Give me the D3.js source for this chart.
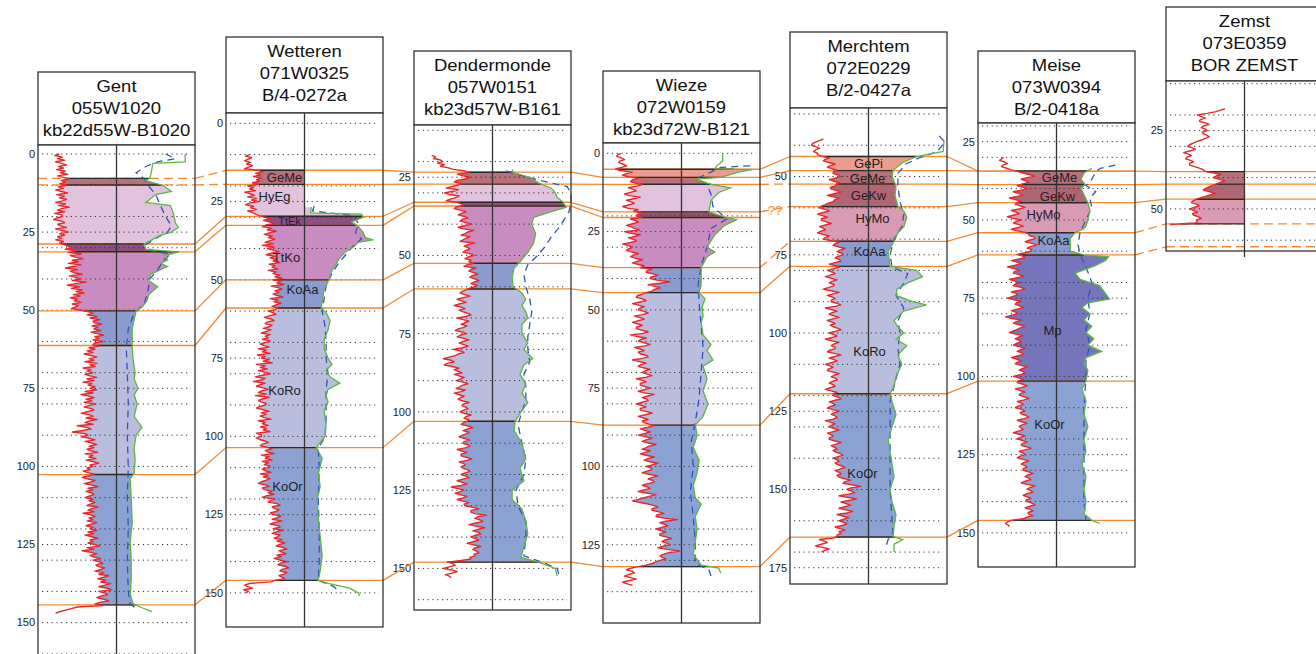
<!DOCTYPE html>
<html>
<head>
<meta charset="utf-8">
<script src="https://cdn.jsdelivr.net/npm/d3@7"></script>
<style>
  body { margin: 0; background: #fff; }
  svg { display: block; font-family: "Liberation Sans", Arial, sans-serif; }
</style>
</head>
<body>
<svg id="chart" width="1316" height="654"></svg>
<script>
// ---------- Wells ----------
const wellNames = ["Gent", "Wetteren", "Dendermonde", "Wieze", "Merchtem", "Meise", "Zemst"];
const wellCodes = ["055W1020", "071W0325", "057W0151", "072W0159", "072E0229", "073W0394", "073E0359"];
const wellIds   = ["kb22d55W-B1020", "B/4-0272a", "kb23d57W-B161", "kb23d72W-B121", "B/2-0427a", "B/2-0418a", "BOR ZEMST"];
// depth (m) at top and bottom of each log track
const depthTop    = [-2.88, -3.29, 8.31, -3.29, 28.1, 19.04, 9.14];
const depthBottom = [162.6, 160.9, 163.3, 150.0, 180.2, 160.9, 63.45];

// ---------- Gamma-ray logs (0.5 m steps from grStart) ----------
const grStart = [0, 10, 18, 0, 38, 30, 18];
const GR_STEP = 0.5;
const grGent = [
  22,17,25,20,27,18,24,29,21,26,19,28,23,30,20,26,31,24,28,22,
  29,21,26,18,24,30,19,27,22,29,25,18,28,21,32,24,20,27,17,24,
  25,19,16,24,27,20,23,29,18,25,31,22,27,20,24,18,26,22,27,30,
  35,28,39,31,44,33,38,46,35,41,31,44,36,28,40,33,37,45,32,38,
  43,35,49,38,30,42,34,45,39,47,36,43,33,40,37,44,35,41,38,34,
  44,52,56,50,60,53,63,56,58,65,55,61,57,64,54,60,67,58,62,56,
  66,58,56,62,52,58,50,56,47,54,60,52,57,48,60,53,58,46,54,50,
  56,48,53,60,50,57,46,55,51,58,53,60,48,56,44,52,57,49,55,47,
  59,52,47,55,57,50,44,53,56,49,60,52,48,56,40,50,54,46,35,48,
  51,44,53,58,48,55,60,52,57,50,54,61,48,56,52,59,49,57,62,53,
  56,50,53,46,51,57,52,45,50,58,54,47,55,61,51,56,49,55,57,52,
  48,56,52,58,54,50,61,55,51,57,46,54,58,52,56,50,60,54,49,56,
  53,60,51,57,48,55,61,53,56,51,58,63,50,57,45,54,60,53,57,64,
  56,62,66,59,61,68,64,58,67,62,72,66,61,69,64,74,68,62,71,75,
  62,68,71,64,60,67,72,63,58,66,40,34,28,22,18];
const grWetteren = [
  24,20,26,22,19,25,21,27,23,19,33,37,30,35,28,36,31,34,27,33,
  22,28,24,30,19,25,29,22,31,26,33,24,20,28,25,31,22,27,30,34,
  40,45,38,44,49,41,37,46,42,51,44,39,47,43,50,45,40,48,37,49,
  42,48,54,46,41,50,45,52,48,55,44,50,47,53,43,51,48,55,50,57,
  48,56,52,59,46,53,57,50,54,48,52,58,45,53,49,56,51,47,53,50,
  43,48,51,44,39,46,49,42,40,47,44,38,46,41,36,45,40,43,37,45,
  41,35,39,44,33,41,37,45,32,40,36,44,38,47,31,40,35,42,33,39,
  45,37,30,40,36,28,40,35,31,38,43,36,33,41,30,44,38,33,36,41,
  40,34,31,38,44,36,41,35,39,46,33,40,37,43,35,41,38,45,31,36,
  36,31,34,40,43,37,35,42,47,40,43,49,36,44,40,47,37,43,39,45,
  42,37,40,46,35,43,38,45,41,36,33,40,44,37,39,47,43,49,41,37,
  50,45,43,52,55,47,49,54,51,45,48,56,52,47,57,50,45,53,55,48,
  58,51,47,55,53,49,57,52,60,55,51,58,62,54,57,61,52,56,49,55,
  62,56,53,60,64,57,55,62,59,54,57,60,50,46,
  24,19,22,27,18,23,20];
const grDendermonde = [
  18,22,20,27,29,24,31,27,35,40,52,56,44,49,57,53,44,41,48,45,
  38,33,45,40,31,36,46,42,37,33,44,48,51,43,41,47,53,49,45,51,
  55,49,47,53,59,51,45,50,61,55,52,48,57,53,50,47,62,56,51,55,
  57,52,50,58,61,55,52,58,56,61,54,51,63,58,56,61,65,59,57,62,
  66,61,58,64,62,56,53,49,47,52,57,50,44,49,53,46,41,48,52,46,
  50,55,58,53,44,50,56,52,48,54,51,45,42,50,53,47,44,51,56,50,
  46,51,55,49,40,47,51,45,42,36,30,38,41,34,31,39,46,41,45,49,
  41,46,51,47,43,50,55,49,47,43,52,48,41,46,51,47,45,50,56,50,
  49,53,55,50,47,52,58,53,51,56,54,50,48,55,60,54,50,56,53,49,
  46,52,57,51,50,55,57,52,44,49,54,48,48,53,59,54,46,51,52,48,
  50,55,57,52,48,53,56,50,44,49,54,48,38,45,51,47,42,48,54,50,
  44,50,56,51,52,60,66,58,58,62,74,65,62,67,70,63,56,63,72,66,
  60,66,68,62,58,63,66,60,54,61,68,62,60,64,66,61,62,57,58,48,
  34,40,42,36,30,38,44,39,32,36,38];
const grWieze = [
  18,15,14,19,22,17,16,21,24,19,13,17,30,24,20,26,36,30,28,33,
  40,34,26,31,34,28,22,27,38,31,24,29,32,26,20,25,36,31,40,35,
  34,39,28,33,36,30,24,29,32,37,22,27,38,33,26,31,34,28,20,26,
  30,26,24,29,36,31,28,33,40,35,30,36,42,38,50,45,44,51,56,49,
  48,55,68,58,46,53,58,52,50,44,40,35,34,40,44,38,30,36,42,37,
  36,42,46,40,32,38,42,35,30,36,40,34,34,40,46,41,28,35,44,38,
  36,42,48,43,32,38,42,36,38,44,46,40,30,37,44,39,36,41,48,43,
  40,45,50,44,34,40,44,38,38,43,48,42,36,42,52,46,40,45,46,40,
  34,39,44,38,38,45,50,43,36,41,46,40,42,47,52,46,38,43,48,42,
  36,43,50,44,40,46,54,47,44,40,48,43,38,45,52,46,42,48,56,50,
  44,49,50,45,40,47,56,50,46,51,52,46,40,45,48,42,36,44,54,48,
  42,36,30,38,46,52,56,50,50,57,62,55,54,62,76,64,58,63,66,60,
  54,59,64,58,58,64,70,63,60,65,68,61,56,66,78,68,62,58,60,64,
  58,54,50,44,36,28,24,30,32,26,22,28,34,26,20,25,30];
const grMerchtem = [
  34,30,26,23,22,27,30,26,24,28,28,33,40,36,34,39,46,41,38,43,
  48,44,44,49,52,46,40,45,50,47,46,41,42,48,52,45,38,44,50,45,
  44,39,36,32,30,36,40,34,28,33,38,32,32,37,42,36,30,34,36,31,
  28,34,40,36,34,42,50,46,44,50,56,51,48,53,54,49,46,50,52,46,
  40,46,50,44,38,43,46,41,36,42,48,43,40,45,44,39,34,42,50,44,
  38,43,46,42,42,48,52,46,36,42,48,43,40,45,50,44,38,43,46,41,
  44,49,52,46,40,45,48,42,36,43,50,45,42,46,46,41,38,45,52,46,
  40,45,48,42,36,41,44,39,38,44,50,45,42,47,48,43,40,44,46,41,
  36,42,48,44,44,49,52,46,40,44,46,41,38,44,50,45,42,46,48,44,
  36,41,46,42,40,45,50,44,38,42,44,40,40,46,52,47,42,45,48,44,
  46,51,54,49,44,48,50,46,48,53,56,51,46,50,52,48,50,55,62,56,
  54,63,72,62,58,63,66,60,50,58,68,60,52,57,62,56,50,57,64,58,
  48,54,60,55,50,55,58,53,46,51,56,50,52,48,48,44,
  30,35,38,32,26,33,40,35,32];
const grMeise = [
  26,24,22,27,30,25,24,29,34,40,46,52,58,50,44,49,52,46,40,45,
  50,44,36,41,46,40,32,38,44,40,38,43,48,42,34,39,42,36,30,36,
  44,39,36,42,46,40,34,40,48,52,52,58,58,52,48,55,60,54,50,55,
  54,48,40,45,48,42,34,40,44,38,30,36,42,37,36,42,46,40,32,37,
  42,38,36,43,48,42,34,39,40,35,30,37,44,39,38,43,46,40,34,39,
  40,34,28,35,44,39,36,42,48,43,40,36,32,39,46,41,38,42,44,39,
  36,42,48,43,40,45,46,40,34,39,44,40,38,44,50,45,42,46,48,42,
  36,42,46,41,40,46,50,45,38,43,48,43,42,47,52,47,40,44,46,41,
  38,44,48,43,44,49,52,47,40,45,50,45,42,44,46,41,36,42,48,43,
  40,46,50,45,44,50,54,48,42,46,48,43,40,46,52,47,44,48,50,46,
  46,52,56,51,48,52,54,48,44,50,58,53,50,54,56,50,46,50,54,49,
  50,55,58,53,48,53,56,51,52,56,50,46,
  34,30,28,31,32];
const grZemst = [
  60,55,50,42,32,36,40,35,34,40,44,38,36,40,42,37,38,42,44,40,
  36,31,28,24,22,27,30,24,18,23,26,21,20,25,28,24,24,29,34,38,
  40,48,56,51,48,54,60,55,52,47,44,40,38,44,50,45,40,35,30,27,
  26,31,34,29,24,28,32,27,28,33,36,31,32,30,4];
const grLogs = [grGent, grWetteren, grDendermonde, grWieze, grMerchtem, grMeise, grZemst];

// ---------- Resistivity logs: [depth m, reading] ----------
const resGent = [[0,70],[2.5,70],[3,37],[5,36],[7.8,34],[8.5,30],[10,47],[12,56],[13,40],[15.5,30],[16.5,55],[19,58],[22,60],[23.5,63],[25,56],[26,45],[27.5,36],[28.8,28],[30.5,30],[31.3,63],[32.5,50],[33.9,52],[35,45],[36,52],[38.5,35],[40.6,33],[42.5,42],[45,33],[47,31],[49,26],[50.2,20],[53,18],[56,16],[62,16],[66,17],[70,19],[72,18],[75,22],[77,18],[80,21],[84,18],[87.5,26],[90,20],[94,18],[98,19],[102,18],[104,14],[110,15],[118,16],[124,14],[130,15],[136,15],[141,14],[144,17],[145,24],[146.5,36]];
const resWetteren = [[26.8,7],[28.6,6],[29,58],[30,60],[31.5,48],[33,55],[35,60],[36.5,62],[37.2,70],[38,55],[39.5,50],[41,42],[43,36],[45,32],[47,28],[50,25],[53,20],[57,18],[59,17],[60.5,22],[63,26],[66,24],[69,20],[72,20],[75,24],[77,28],[79,22],[81,26],[83,36],[85,24],[87,22],[89,24],[92,20],[96,22],[100,21],[103.6,12],[107,18],[112,14],[116,16],[120,13],[126,14],[132,16],[138,18],[143,16],[146,14],[147,24],[148.5,46],[150,55],[151,56]];
const resDendermonde = [[22.5,20],[23.5,21],[25,38],[27,48],[28.5,60],[30,64],[31.5,66],[33,72],[34.6,75],[36,60],[37.8,42],[40,40],[43,44],[46,42],[49,36],[52,28],[54,22],[57,20],[60,21],[62,30],[64,34],[66,30],[68,34],[70,36],[72,30],[75,30],[78,36],[80,32],[83,41],[85,32],[88,28],[91,34],[94,30],[97,36],[100,29],[103,23],[106,22],[110,30],[115,34],[118,28],[122,32],[125,20],[128,20],[131,30],[135,34],[139,36],[143,32],[146.5,29],[148,47],[150,64],[152.5,66]];
const resWieze = [[0,42],[2.5,42],[4,36],[5,34],[5.2,72],[6,58],[7.7,40],[8.2,14],[9.9,30],[11,50],[12.5,38],[15,30],[18.7,28],[20.4,44],[21.2,56],[23,44],[26,34],[30,26],[31.5,34],[33,26],[36.5,20],[42,20],[44.5,18],[46.5,24],[49,21],[52,22],[54,20],[58,22],[61,30],[63,26],[66,32],[68,22],[72,26],[76,22],[80,27],[84,22],[86.8,14],[90,16],[94,12],[98,18],[102,16],[106,12],[110,14],[112,20],[116,14],[120,16],[124,14],[128,12],[131.5,20],[132.5,38],[134,40]];
const resMerchtem = [[38.5,77],[42,76],[43.6,49],[45.5,35],[48,25],[50,24],[53,28],[56,27],[59.6,30],[61,36],[63,39],[66,36],[68,30],[70.7,26],[74,20],[78.7,22],[80,49],[82,55],[84,40],[86,29],[88,28],[90,45],[91,59],[93,36],[96,26],[98,30],[100,36],[102,28],[104,39],[107,30],[110,34],[114,28],[117,26],[119.4,22],[122,24],[126,28],[130,24],[134,20],[138,22],[142,24],[146,26],[150,22],[154,24],[158,28],[162,26],[165,25],[166,35],[167.5,26],[170,26]];
const resMeise = [[33.5,36],[35,28],[37,25],[38.7,29],[40,25],[42,28],[44.5,32],[47,34],[50,32],[52,30],[53,27],[54,19],[56,14],[60,14],[61.2,28],[61.8,53],[63,50],[64.5,40],[66,28],[67,19],[69,24],[71,44],[75.3,54],[76.5,32],[78,26],[80,34],[82,28],[84,36],[86,30],[88,38],[90,32],[92,46],[94,30],[96,28],[98,32],[101.5,30],[104,26],[108,30],[112,28],[116,32],[120,28],[124,30],[128,26],[132,30],[136,28],[140,30],[144,28],[146,36],[147,44]];
const resLogs = [resGent, resWetteren, resDendermonde, resWieze, resMerchtem, resMeise, null];

// second resistivity reading (dashed)
const res2Gent = [[0,50],[1.5,60],[2.5,42],[4,30],[6,20],[7.8,28],[10,32],[13,40],[16,44],[20,50],[23,56],[25,52],[27,40],[29,30],[31,36],[32,55],[34,48],[37,42],[40,34],[44,32],[48,28],[51,18],[56,12],[62,10],[70,11],[80,12],[90,11],[100,12],[110,11],[120,12],[130,11],[140,12],[144,14],[146,22]];
const res2Wetteren = [[26.5,10],[28,8],[29.5,50],[32,55],[35,52],[37,58],[39,50],[42,42],[45,34],[48,28],[52,22],[56,20],[60,18],[65,21],[70,22],[75,22],[80,24],[85,22],[90,22],[95,22],[100,21],[104,14],[110,15],[120,14],[130,15],[140,15],[146,14],[148,30],[150,36]];
const res2Dendermonde = [[23,14],[24.5,30],[26.5,55],[28,76],[30,80],[33,80],[36,78],[38,74],[41,68],[44,60],[47,54],[50,46],[53,36],[56,32],[60,34],[64,38],[68,40],[72,38],[76,36],[80,36],[84,38],[88,32],[92,34],[96,34],[100,30],[104,26],[110,30],[115,34],[120,32],[125,24],[130,26],[135,34],[140,34],[146,32],[148,50],[150,66],[152.5,68]];
const res2Wieze = [[4,70],[4.5,40],[6,30],[8,16],[10,26],[13,30],[17,32],[21,46],[24,30],[30,26],[36,20],[42,17],[48,18],[55,20],[62,22],[70,20],[78,18],[86,14],[92,10],[100,12],[108,9],[116,12],[124,14],[131,14],[133,28],[135,30]];
const res2Merchtem = [[37,72],[39,78],[42,70],[44,52],[46,38],[49,30],[53,30],[58,32],[62,36],[66,34],[70,26],[75,22],[79,24],[81,40],[84,36],[88,28],[92,36],[96,30],[100,32],[105,30],[110,32],[117,26],[122,22],[130,22],[140,22],[150,22],[160,24],[164,25],[166,20],[168,18]];
const res2Meise = [[32.5,60],[33.5,45],[34.5,40],[37,36],[39,30],[41,40],[43,34],[46,36],[50,30],[54,24],[58,22],[61,24],[65,30],[70,36],[75,32],[80,34],[85,30],[90,34],[95,30],[100,30],[110,28],[120,28],[130,28],[140,28],[146,30]];
const res2Logs = [res2Gent, res2Wetteren, res2Dendermonde, res2Wieze, res2Merchtem, res2Meise, null];

// ---------- Lithostratigraphic units: [unit, top m, base m] ----------
const unitsGent        = [["GeMe",7.8,9.9],["HyEg",9.9,28.8],["TtEk",28.8,31.3],["TtKo",31.3,50.2],["KoAa",50.2,61.3],["KoRo",61.3,102.6],["KoOr",102.6,144.3]];
const unitsWetteren    = [["GeMe",15,19.5],["HyEg",19.5,29.7],["TtEk",29.7,32.6],["TtKo",32.6,50],["KoAa",50,59],["KoRo",59,103.6],["KoOr",103.6,146]];
const unitsDendermonde = [["GeMe",23.4,27.2],["HyEg",27.2,33],["TtEk",33,34.2],["TtKo",34.2,52.5],["KoAa",52.5,60.7],["KoRo",60.7,103],["KoOr",103,148]];
const unitsWieze       = [["GePi",5.1,7.7],["GeMe",7.7,9.9],["HyEg",9.9,18.7],["TtEk",18.7,20.5],["TtKo",20.5,36.5],["KoAa",36.5,44.5],["KoRo",44.5,86.8],["KoOr",86.8,132]];
const unitsMerchtem    = [["GePi",43.6,48.1],["GeMe",48.1,52.4],["GeKw",52.4,59.6],["HyMo",59.6,70.7],["KoAa",70.7,78.7],["KoRo",78.7,119.4],["KoOr",119.4,165.2]];
const unitsMeise       = [["GeMe",34.4,38.7],["GeKw",38.7,44.5],["HyMo",44.5,54.1],["KoAa",54.1,61.2],["Mp",61.2,101.5],["KoOr",101.5,146]];
const unitsZemst       = [["GeMe",38.1,42.1],["GeKw",42.1,46.9],["HyMo",46.9,54.8]];
const unitLogs = [unitsGent, unitsWetteren, unitsDendermonde, unitsWieze, unitsMerchtem, unitsMeise, unitsZemst];

// unit names written inside the columns: [well, unit, depth m]
const unitLabels = [
  [1,"GeMe",17.2],[1,"HyEg",23.5],[1,"TtEk",31.2],[1,"TtKo",43],[1,"KoAa",53.2],[1,"KoRo",85.2],[1,"KoOr",115.9],
  [4,"GePi",45.7],[4,"GeMe",50.5],[4,"GeKw",56.2],[4,"HyMo",63.3],[4,"KoAa",73.8],[4,"KoRo",105.8],[4,"KoOr",145],
  [5,"GeMe",36.3],[5,"GeKw",42.4],[5,"HyMo",48.1],[5,"KoAa",56.5],[5,"Mp",85.2],[5,"KoOr",115.5]
];

// ---------- Correlated surfaces: [well, depth m, dashed in column, dashed to next well] ----------
const surfaces = [
  [[3,5.1,0,0],[4,43.6,0,0],[5,34.4,0,0]],
  [[0,7.8,1,1],[1,15,0,0],[2,23.4,0,0],[3,7.7,0,0],[4,48.1,0,0],[5,34.4,0,0],[6,38.1,0,0]],
  [[0,9.9,1,1],[1,19.5,0,0],[2,27.2,0,0],[3,9.9,0,1],[4,52.4,0,0],[5,38.7,0,0],[6,42.1,0,0]],
  [[0,28.8,0,0],[1,29.7,0,0],[2,33,0,0],[3,18.7,0,1],[4,59.6,0,0],[5,44.5,0,0],[6,46.9,0,0]],
  [[0,31.3,0,0],[1,32.6,0,0],[2,34.2,0,0],[3,20.5,0,0]],
  [[0,50.2,0,0],[1,50,0,0],[2,52.5,0,0],[3,36.5,0,1],[4,70.7,0,0],[5,54.1,0,1],[6,54.8,1,1]],
  [[0,61.3,0,0],[1,59,0,0],[2,60.7,0,0],[3,44.5,0,0],[4,78.7,0,0],[5,61.2,0,1],[6,62.1,1,1]],
  [[0,102.6,0,0],[1,103.6,0,0],[2,103,0,0],[3,86.8,0,0],[4,119.4,0,0],[5,101.5,0,0]],
  [[0,144.3,0,0],[1,146,0,0],[2,148,0,0],[3,132,0,0],[4,165.2,0,0],[5,146,0,0]]
];
// uncertain correlation marker: [surface, segment start well, text]
const queryMarks = [[3, 3, "??"]];

// ---------- Layout & style ----------
const layout = [
  { x: 38,   headTop: 72, boxTop: 145, boxBottom: 662 },
  { x: 226,  headTop: 37, boxTop: 113, boxBottom: 627 },
  { x: 414,  headTop: 51, boxTop: 125, boxBottom: 610 },
  { x: 603,  headTop: 71, boxTop: 143, boxBottom: 623 },
  { x: 790,  headTop: 32, boxTop: 108, boxBottom: 584 },
  { x: 978,  headTop: 51, boxTop: 123, boxBottom: 567 },
  { x: 1166, headTop: 7,  boxTop: 81,  boxBottom: 251 }
];
const BOX_W = 157;
const labelNudge = {
  "1": { GeMe: -20, HyEg: -30, TtEk: -15, TtKo: -18, KoAa: -2, KoRo: -20, KoOr: -17 },
  "4": { GePi: 0, GeMe: -1, GeKw: 0, HyMo: 4, KoAa: 1, KoRo: 1, KoOr: -6 },
  "5": { GeMe: 3, GeKw: 1, HyMo: -13, KoAa: -3, Mp: -4, KoOr: -7 }
};
const unitColor = {
  GePi: "#eb9c8c", GeMe: "#b7707c", GeKw: "#b06672", HyEg: "#e1c3de", HyMo: "#d99ab3",
  TtEk: "#8f4d83", TtKo: "#c98cc0", KoAa: "#8b9bcf", KoRo: "#b9bedf", KoOr: "#8ca2d2", Mp: "#7575bb"
};
const ORANGE = "#f28a33";

const svg = d3.select("#chart");

// interpolated reading of a [depth, value] series
function readAt(series, d) {
  if (!series || !series.length) return null;
  if (d < series[0][0] || d > series[series.length - 1][0]) return null;
  for (let j = 1; j < series.length; j++) {
    const a = series[j - 1], b = series[j];
    if (d <= b[0]) {
      const t = b[0] === a[0] ? 0 : (d - a[0]) / (b[0] - a[0]);
      return a[1] + t * (b[1] - a[1]);
    }
  }
  return null;
}
// part of a series between two depths, with interpolated ends
function slice(series, t, b) {
  if (!series) return [];
  const lo = Math.max(t, series[0][0]), hi = Math.min(b, series[series.length - 1][0]);
  if (hi <= lo) return [];
  const pts = [[lo, readAt(series, lo)]];
  series.forEach(p => { if (p[0] > lo && p[0] < hi) pts.push(p); });
  pts.push([hi, readAt(series, hi)]);
  return pts;
}

// scales per well
const wells = wellNames.map((name, i) => {
  const L = layout[i];
  const left = L.x, right = L.x + BOX_W, center = L.x + BOX_W / 2;
  return {
    i, left, right, center, L,
    y: d3.scaleLinear().domain([depthTop[i], depthBottom[i]]).range([L.boxTop, L.boxBottom]),
    xGr: d3.scaleLinear().domain([0, 80]).range([left, center]),
    xRes: d3.scaleLinear().domain([0, 80]).range([center, right]),
    gr: grLogs[i].map((v, j) => [grStart[i] + j * GR_STEP, v]),
    res: resLogs[i],
    res2: res2Logs[i],
    units: unitLogs[i]
  };
});

const gWells = svg.append("g");
const gSurf = svg.append("g");
const gTop = svg.append("g");

// ---------- Draw each well ----------
wells.forEach(w => {
  const g = gWells.append("g");
  const { y, xGr, xRes, left, right, center, L } = w;

  // header
  g.append("rect").attr("x", left).attr("y", L.headTop).attr("width", BOX_W)
    .attr("height", L.boxTop - L.headTop).attr("fill", "#fff").attr("stroke", "#333").attr("stroke-width", 1.3);
  [wellNames[w.i], wellCodes[w.i], wellIds[w.i]].forEach((t, k) => {
    g.append("text").attr("transform", `translate(${center},${L.headTop + 20 + k * 22}) scale(1.12,1)`)
      .attr("text-anchor", "middle").attr("font-size", 16.5).attr("fill", "#111").text(t);
  });

  // log box
  g.append("rect").attr("x", left).attr("y", L.boxTop).attr("width", BOX_W)
    .attr("height", L.boxBottom - L.boxTop).attr("fill", "#fff");

  // unit fills
  const areaL = d3.area().y(d => y(d[0])).x0(d => xGr(d[1])).x1(center);
  const areaR = d3.area().y(d => y(d[0])).x0(center).x1(d => xRes(d[1]));
  w.units.forEach(u => {
    const col = unitColor[u[0]];
    const pl = slice(w.gr, u[1], u[2]);
    if (pl.length) g.append("path").attr("d", areaL(pl)).attr("fill", col);
    const pr = slice(w.res, u[1], u[2]);
    if (pr.length) g.append("path").attr("d", areaR(pr)).attr("fill", col);
  });

  // depth grid (every 10 m and every 25 m)
  const [d0, d1] = y.domain();
  const gridDepths = d3.range(Math.ceil(d0 / 5) * 5, d1 - 1.5, 5).filter(d => d % 10 === 0 || d % 25 === 0);
  g.selectAll(".grid").data(gridDepths).join("line")
    .attr("x1", left + 4).attr("x2", right - 4)
    .attr("y1", d => y(d)).attr("y2", d => y(d))
    .attr("stroke", "#333").attr("stroke-width", 1).attr("stroke-dasharray", "1.2,3.6");

  // depth labels
  const tickDepths = d3.range(Math.ceil(d0 / 25) * 25, d1 - 1.5, 25).filter(d => y(d) > L.boxTop + 3);
  g.selectAll(".tick").data(tickDepths).join("text")
    .attr("x", left - 3).attr("y", d => y(d)).attr("dy", "0.35em")
    .attr("text-anchor", "end").attr("font-size", 11).attr("fill", "#222").text(d => d);
});

// ---------- Correlation lines ----------
surfaces.forEach(s => {
  s.forEach((node, k) => {
    const w = wells[node[0]], yy = w.y(node[1]);
    gSurf.append("line").attr("x1", w.left).attr("x2", Math.min(w.right, 1316)).attr("y1", yy).attr("y2", yy)
      .attr("stroke", ORANGE).attr("stroke-width", 1.3).attr("stroke-dasharray", node[2] ? "9,5" : null);
    if (k < s.length - 1) {
      const n2 = s[k + 1], w2 = wells[n2[0]];
      gSurf.append("line").attr("x1", w.right).attr("y1", yy).attr("x2", w2.left).attr("y2", w2.y(n2[1]))
        .attr("stroke", ORANGE).attr("stroke-width", 1.3).attr("stroke-dasharray", node[3] ? "9,5" : null);
    }
  });
});
queryMarks.forEach(q => {
  const s = surfaces[q[0]];
  const a = s.find(n => n[0] === q[1]), b = s.find(n => n[0] === q[1] + 1);
  const wa = wells[a[0]], wb = wells[b[0]];
  gSurf.append("text").attr("x", (wa.right + wb.left) / 2).attr("y", (wa.y(a[1]) + wb.y(b[1])) / 2 + 6)
    .attr("text-anchor", "middle").attr("font-size", 13).attr("fill", ORANGE).text(q[2]);
});

// ---------- Unit boundaries, curves, labels, frames ----------
wells.forEach(w => {
  const g = gTop.append("g");
  const { y, xGr, xRes, left, right, center, L } = w;

  // unit boundaries across the filled part
  const bounds = w.units.map(u => u[1]).concat([w.units[w.units.length - 1][2]]);
  bounds.forEach(d => {
    const a = readAt(w.gr, d), b = readAt(w.res, d);
    g.append("line").attr("y1", y(d)).attr("y2", y(d))
      .attr("x1", a == null ? center : xGr(a)).attr("x2", b == null ? center : xRes(b))
      .attr("stroke", "#2a2a2a").attr("stroke-width", 1.4);
  });

  // centre line
  g.append("line").attr("x1", center).attr("x2", center).attr("y1", L.boxTop)
    .attr("y2", L.boxBottom + (w.i === 6 ? 6 : 0)).attr("stroke", "#333").attr("stroke-width", 1.3);

  const line = (xs) => d3.line().x(d => xs(d[1])).y(d => y(d[0]));
  if (w.res2) g.append("path").attr("d", line(xRes)(w.res2)).attr("fill", "none")
    .attr("stroke", "#2f55b8").attr("stroke-width", 1.3).attr("stroke-dasharray", "7,5");
  if (w.res) g.append("path").attr("d", line(xRes)(w.res)).attr("fill", "none")
    .attr("stroke", "#5db544").attr("stroke-width", 1.3);
  g.append("path").attr("d", line(xGr)(w.gr)).attr("fill", "none")
    .attr("stroke", "#e8282a").attr("stroke-width", 1.4).attr("stroke-linejoin", "round");

  // frame
  g.append("rect").attr("x", left).attr("y", L.boxTop).attr("width", BOX_W)
    .attr("height", L.boxBottom - L.boxTop).attr("fill", "none").attr("stroke", "#333").attr("stroke-width", 1.3);
});

// unit names
unitLabels.forEach(([wi, name, d]) => {
  const w = wells[wi];
  gTop.append("text").attr("x", w.center + labelNudge[wi][name]).attr("y", w.y(d)).attr("dy", "0.35em")
    .attr("text-anchor", "middle").attr("font-size", name === "TtEk" ? 11 : 13).attr("fill", "#222").text(name);
});
</script>
</body>
</html>
